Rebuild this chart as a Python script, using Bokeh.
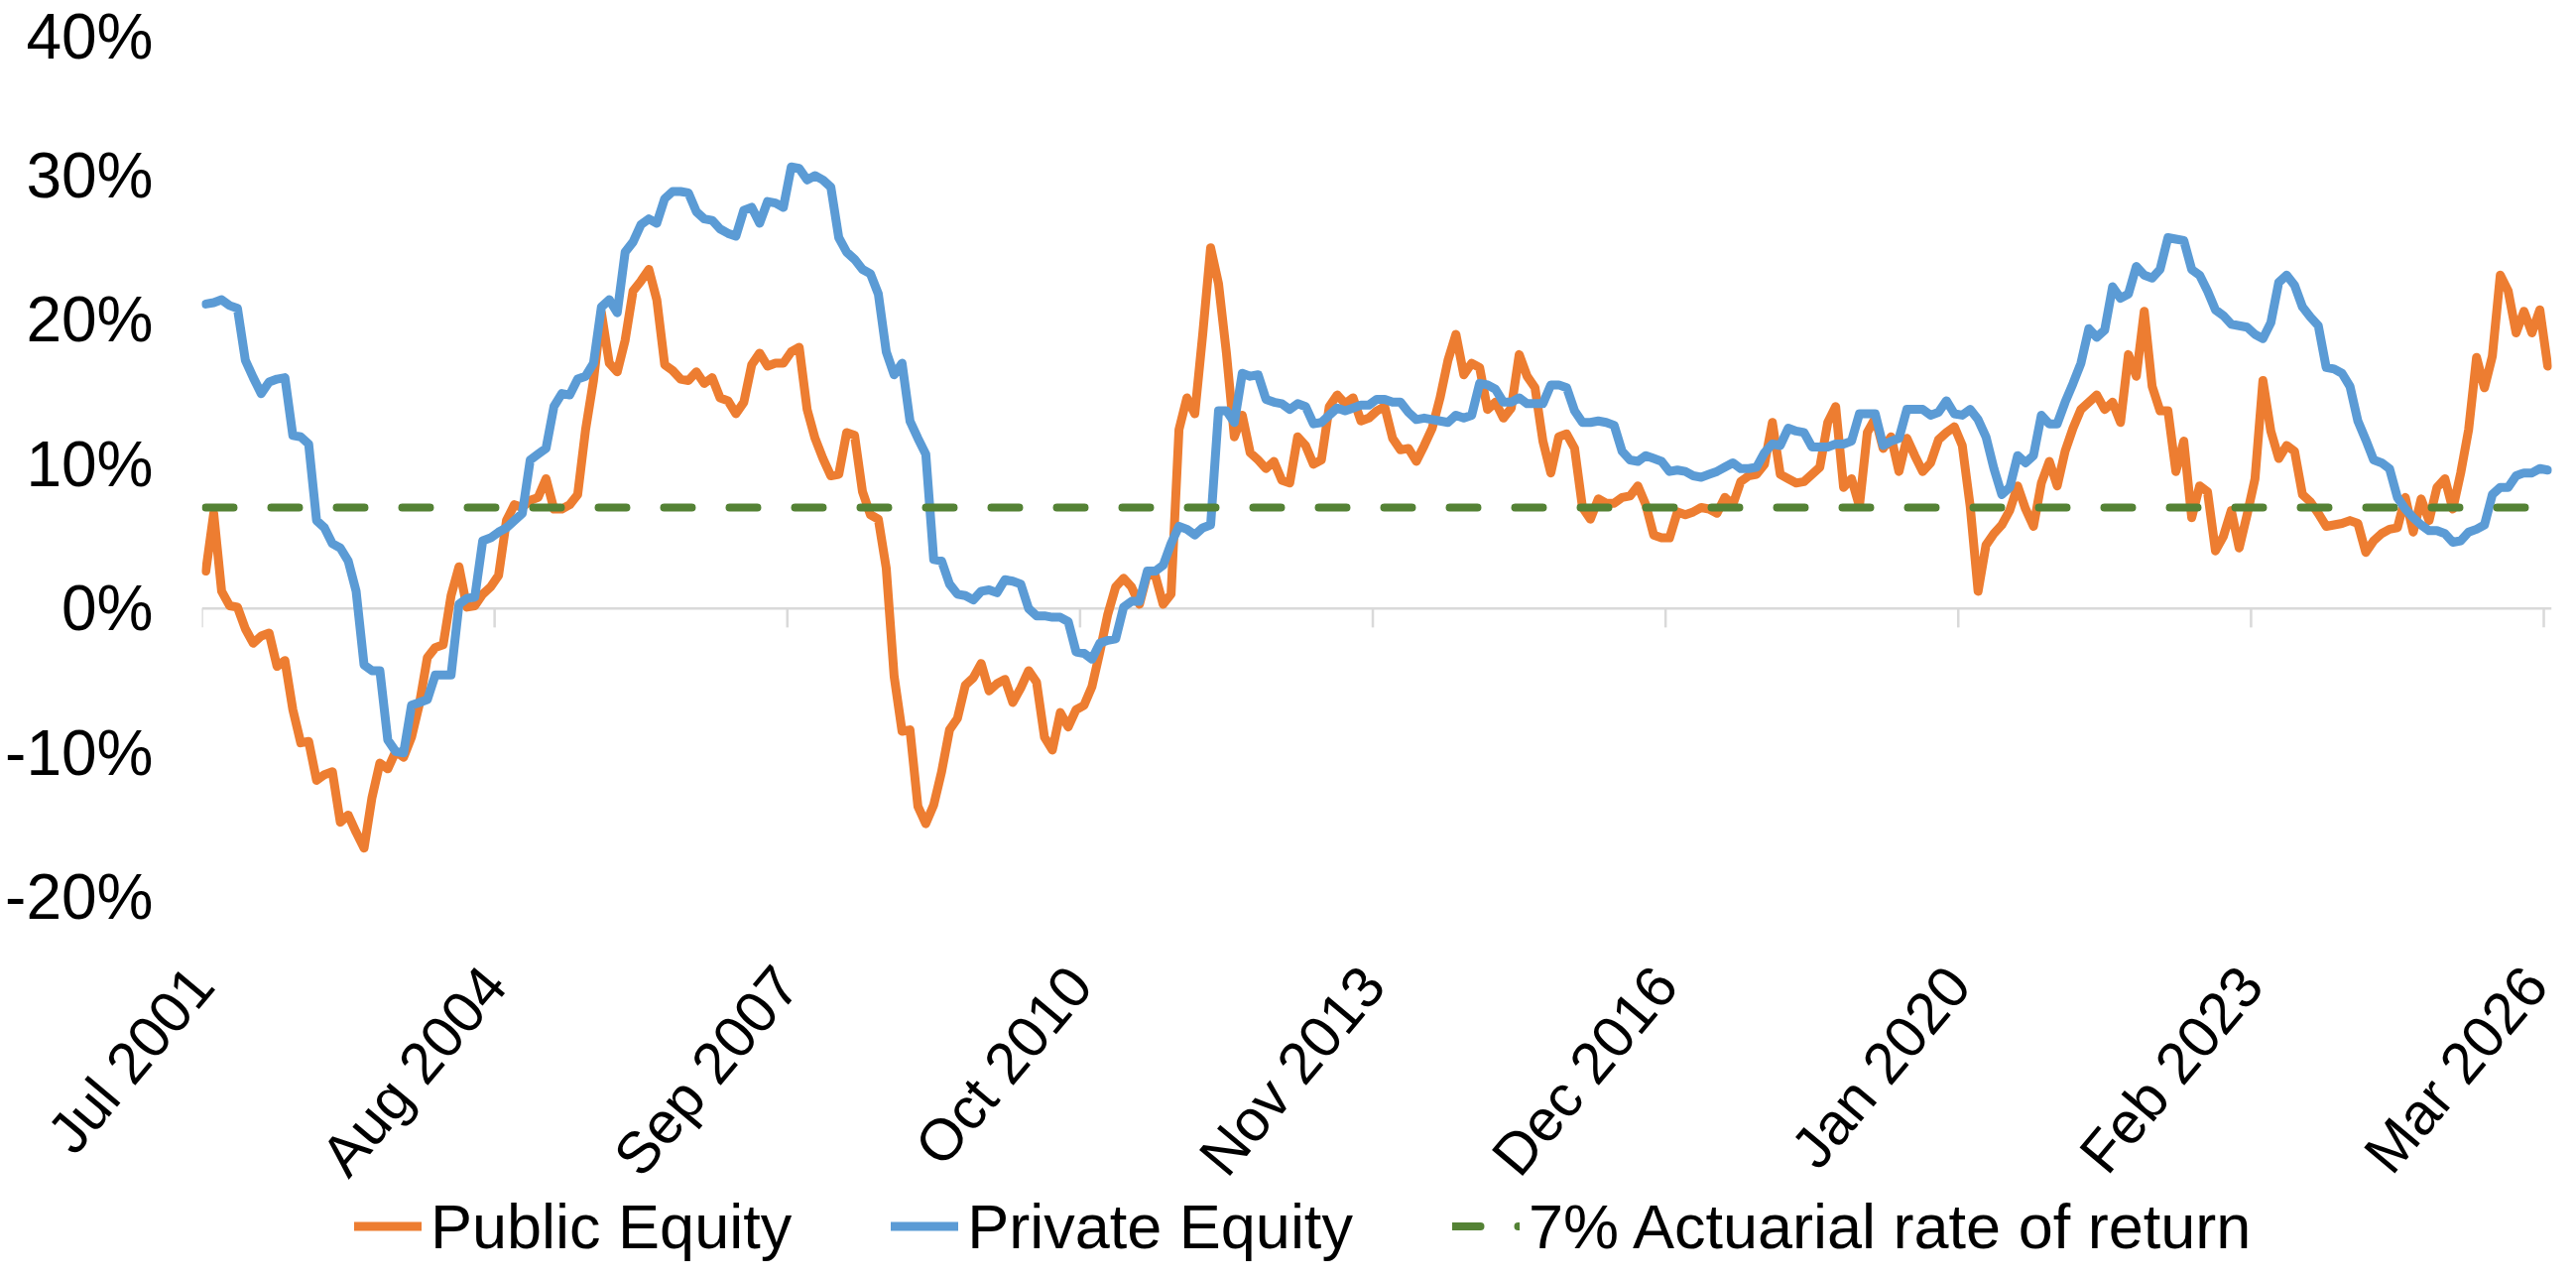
import math
from bokeh.plotting import figure
from bokeh.models import (Range1d, FixedTicker, PrintfTickFormatter, Legend,
                          LegendItem, Span, LinearAxis)
from bokeh.embed import file_html
from bokeh.resources import INLINE

# ---------------- data (monthly, Jul 2001 .. Mar 2026, % return) ----------------
TICK_LABELS = ["Jul 2001", "Aug 2004", "Sep 2007", "Oct 2010", "Nov 2013",
               "Dec 2016", "Jan 2020", "Feb 2023", "Mar 2026"]
MONTHS_PER_TICK = 37

PUBLIC_EQUITY = [
    2.6, 6.6, 1.2, 0.2, 0.1, -1.4, -2.4, -1.9, -1.7, -4.0,
    -3.6, -7.0, -9.3, -9.2, -11.9, -11.5, -11.3, -14.8, -14.3, -15.5,
    -16.6, -13.1, -10.7, -11.1, -9.9, -10.3, -8.9, -6.6, -3.4, -2.7,
    -2.5, 0.9, 2.9, 0.1, 0.2, 1.0, 1.5, 2.3, 6.1, 7.2,
    7.0, 7.5, 7.7, 9.0, 6.9, 6.9, 7.2, 7.9, 12.4, 15.8,
    20.5, 17.0, 16.4, 18.6, 22.0, 22.7, 23.5, 21.4, 16.9, 16.5,
    15.9, 15.8, 16.4, 15.6, 16.0, 14.6, 14.4, 13.5, 14.3, 16.9,
    17.7, 16.8, 17.0, 17.0, 17.8, 18.1, 13.8, 11.8, 10.4, 9.2,
    9.3, 12.2, 12.0, 8.1, 6.5, 6.2, 2.8, -4.7, -8.5, -8.4,
    -13.7, -14.9, -13.6, -11.3, -8.4, -7.6, -5.3, -4.8, -3.8,
    -5.7, -5.2, -4.9, -6.5, -5.5, -4.3, -5.1, -8.9, -9.8, -7.2,
    -8.2, -7.0, -6.7, -5.4, -3.0, -0.4, 1.5, 2.1, 1.5, 0.3,
    2.4, 2.3, 0.3, 1.0, 12.4, 14.6, 13.5, 19.0, 25.0, 22.5,
    17.7, 11.9, 13.4, 10.8, 10.3, 9.7, 10.2, 8.9, 8.7, 11.9,
    11.3, 10.0, 10.3, 14.0, 14.8, 14.2, 14.6, 13.0, 13.2, 13.7,
    14.0, 11.8, 11.0, 11.1, 10.2, 11.3, 12.5, 14.6, 17.2, 19.0,
    16.2, 17.0, 16.7, 13.8, 14.3, 13.2, 13.9, 17.6, 16.1, 15.3,
    11.6, 9.4, 11.9, 12.1, 11.1, 7.0, 6.2, 7.6, 7.3, 7.3,
    7.7, 7.8, 8.5, 7.2, 5.1, 4.9, 4.9, 6.7, 6.5, 6.7,
    7.0, 6.9, 6.6, 7.7, 7.2, 8.8, 9.2, 9.3, 10.0,
    12.9, 9.3, 9.0, 8.7, 8.8, 9.3, 9.8, 12.9, 14.0, 8.4,
    9.0, 7.1, 12.2, 13.2, 11.1, 11.9, 9.5, 11.8, 10.6, 9.5,
    10.1, 11.7, 12.2, 12.6, 11.3, 7.1, 1.2, 4.4, 5.2, 5.8,
    6.8, 8.5, 6.9, 5.7, 8.7, 10.2, 8.5, 10.9, 12.5, 13.8,
    14.3, 14.8, 13.8, 14.3, 12.9, 17.6, 16.1, 20.6, 15.4,
    13.7, 13.7, 9.5, 11.6, 6.3, 8.5, 8.1, 4.0, 5.0, 6.8,
    4.2, 6.5, 9.0, 15.8, 12.3, 10.4, 11.3, 10.9, 7.9, 7.4,
    6.6, 5.7, 5.8, 5.9, 6.1, 5.9, 3.9, 4.7, 5.2, 5.5,
    5.6, 7.7, 5.3, 7.6, 6.1, 8.4, 9.0, 6.9, 9.4, 12.4,
    17.4, 15.3, 17.5, 23.1, 22.0, 19.1, 20.6, 19.1, 20.7, 16.8,
]

PRIVATE_EQUITY = [
    21.1, 21.2, 21.4, 21.0, 20.8, 17.2, 16.0, 14.9, 15.7, 15.9,
    16.0, 12.0, 11.9, 11.4, 6.1, 5.6, 4.5, 4.2, 3.3, 1.2,
    -3.9, -4.3, -4.3, -9.1, -9.9, -10.0, -6.7, -6.5, -6.3, -4.6,
    -4.6, -4.6, 0.3, 0.7, 0.8, 4.7, 4.9, 5.3, 5.6, 6.1,
    6.6, 10.3, 10.7, 11.1, 14.0, 14.9, 14.8, 15.9, 16.1, 17.0,
    20.9, 21.4, 20.5, 24.7, 25.4, 26.6, 27.0, 26.7, 28.4, 28.9,
    28.9, 28.8, 27.5, 27.0, 26.9, 26.3, 26.0, 25.8, 27.6, 27.8,
    26.7, 28.2, 28.1, 27.8, 30.6, 30.5, 29.7, 30.0, 29.7, 29.2,
    25.7, 24.7, 24.2, 23.5, 23.2, 21.8, 17.8, 16.2, 17.0, 13.0,
    11.8, 10.7, 3.4, 3.3, 1.7, 1.0, 0.9, 0.6, 1.2,
    1.3, 1.1, 2.0, 1.9, 1.7, 0.0, -0.5, -0.5, -0.6, -0.6,
    -0.9, -3.0, -3.1, -3.5, -2.4, -2.2, -2.1, 0.1, 0.5, 0.5,
    2.6, 2.6, 3.0, 4.5, 5.7, 5.5, 5.1, 5.6, 5.8, 13.7,
    13.7, 12.9, 16.3, 16.1, 16.2, 14.5, 14.3, 14.2, 13.8, 14.2,
    14.0, 12.8, 12.9, 13.4, 13.9, 13.7, 13.9, 14.1, 14.1, 14.5,
    14.5, 14.3, 14.3, 13.6, 13.1, 13.2, 13.1, 13.0, 12.9, 13.4,
    13.2, 13.4, 15.6, 15.5, 15.2, 14.3, 14.3, 14.6, 14.2, 14.2,
    14.2, 15.5, 15.5, 15.3, 13.7, 12.9, 12.9, 13.0, 12.9, 12.7,
    10.9, 10.3, 10.2, 10.6, 10.4, 10.2, 9.5, 9.6, 9.5, 9.2,
    9.1, 9.3, 9.5, 9.8, 10.1, 9.7, 9.7, 9.8, 10.8,
    11.4, 11.3, 12.5, 12.3, 12.2, 11.2, 11.2, 11.2, 11.4, 11.4,
    11.6, 13.5, 13.5, 13.5, 11.3, 11.6, 11.8, 13.8, 13.8, 13.8,
    13.4, 13.6, 14.4, 13.5, 13.4, 13.8, 13.1, 11.9, 9.7, 7.9,
    8.4, 10.6, 10.1, 10.6, 13.4, 12.8, 12.8, 14.3, 15.6, 17.0,
    19.4, 18.8, 19.3, 22.3, 21.5, 21.8, 23.7, 23.1, 22.9,
    23.5, 25.7, 25.6, 25.5, 23.5, 23.1, 22.0, 20.7, 20.3, 19.7,
    19.6, 19.5, 19.0, 18.7, 19.8, 22.6, 23.1, 22.4, 20.9, 20.2,
    19.6, 16.7, 16.6, 16.3, 15.4, 13.0, 11.7, 10.3, 10.1, 9.7,
    7.7, 6.9, 6.3, 5.8, 5.4, 5.4, 5.2, 4.6, 4.7, 5.3,
    5.5, 5.8, 7.9, 8.4, 8.4, 9.2, 9.4, 9.4, 9.7, 9.6,
]

ACTUARIAL_RATE = 7.0
Y_TICKS = [-20, -10, 0, 10, 20, 30, 40]

# ---------------- styling ----------------
FONT = "Liberation Sans"
ORANGE = "#ED7D31"
BLUE = "#5B9BD5"
GREEN = "#548235"
AXIS_GRAY = "#D9D9D9"
LINE_W = 9
DASH_W = 8
DASH = "28 38"

W = 2581
H = 1273
FRAME_TOP = 31          # px above the 40% level
DATA_H = 872.8          # px from 40% down to -20%
LABEL_GAP = 72          # px from the -20% level down to the x tick labels
LEG_H = 75

px_per_unit = DATA_H / (Y_TICKS[-1] - Y_TICKS[0])
below_px = H - FRAME_TOP - DATA_H          # area under the -20% level
y_bottom = Y_TICKS[0] - below_px / px_per_unit

n_cat = len(PUBLIC_EQUITY)
x_pub = [i + 0.5 for i in range(len(PUBLIC_EQUITY))]
x_pri = [i + 0.5 for i in range(len(PRIVATE_EQUITY))]
act = [ACTUARIAL_RATE for _ in x_pub]

p = figure(width=W, height=H, output_backend="svg", toolbar_location=None,
           x_range=Range1d(0, n_cat), y_range=Range1d(y_bottom, Y_TICKS[-1]),
           x_axis_location=None,
           min_border_left=203, min_border_right=9, min_border_top=FRAME_TOP,
           min_border_bottom=0)
p.outline_line_color = None
p.xgrid.visible = False
p.ygrid.visible = False

# y axis
p.yaxis.ticker = FixedTicker(ticks=Y_TICKS)
p.yaxis.formatter = PrintfTickFormatter(format="%d%%")
p.yaxis.axis_line_color = None
p.yaxis.major_tick_line_color = None
p.yaxis.minor_tick_line_color = None
p.yaxis.major_label_text_font = FONT
p.yaxis.major_label_text_font_size = "64px"
p.yaxis.major_label_text_color = "black"
p.yaxis.major_label_standoff = 43

# horizontal axis line at 0% with tick marks below it
ticks = [k * MONTHS_PER_TICK for k in range(len(TICK_LABELS))]
p.add_layout(Span(location=0, dimension="width", line_color=AXIS_GRAY,
                  line_width=2.5, level="underlay"))
tick_len = 19 / px_per_unit
p.segment(x0=ticks, y0=[0] * len(ticks), x1=ticks, y1=[-tick_len] * len(ticks),
          line_color=AXIS_GRAY, line_width=2.5, level="underlay")

r_pub = p.line(x_pub, PUBLIC_EQUITY, line_color=ORANGE, line_width=LINE_W,
               line_cap="round", line_join="round")
r_pri = p.line(x_pri, PRIVATE_EQUITY, line_color=BLUE, line_width=LINE_W,
               line_cap="round", line_join="round")
r_act = p.line(x_pub, act, line_color=GREEN, line_width=DASH_W,
               line_dash=DASH, line_cap="round")

# x axis: rotated labels every 37 months, placed just below the -20% level
xaxis = LinearAxis(ticker=FixedTicker(ticks=ticks),
                   major_label_overrides={t: lab for t, lab in zip(ticks, TICK_LABELS)},
                   axis_line_color=None, major_tick_line_color=None,
                   minor_tick_line_color=None,
                   major_label_text_font=FONT, major_label_text_font_size="59px",
                   major_label_text_color="black",
                   major_label_orientation=math.radians(50),
                   major_label_standoff=int(round(LABEL_GAP - below_px)))
p.add_layout(xaxis, "below")

legend = Legend(items=[LegendItem(label="Public Equity", renderers=[r_pub]),
                       LegendItem(label="Private Equity", renderers=[r_pri]),
                       LegendItem(label="7% Actuarial rate of return", renderers=[r_act])],
                location=(154, 0), orientation="horizontal",
                label_text_font=FONT, label_text_font_size="63px",
                label_text_color="black",
                glyph_width=68, glyph_height=LEG_H, label_height=LEG_H,
                label_standoff=9, spacing=100, padding=0, margin=0,
                border_line_alpha=0, background_fill_alpha=0)
p.add_layout(legend, "center")

open("out.html", "w").write(file_html(p, INLINE))
